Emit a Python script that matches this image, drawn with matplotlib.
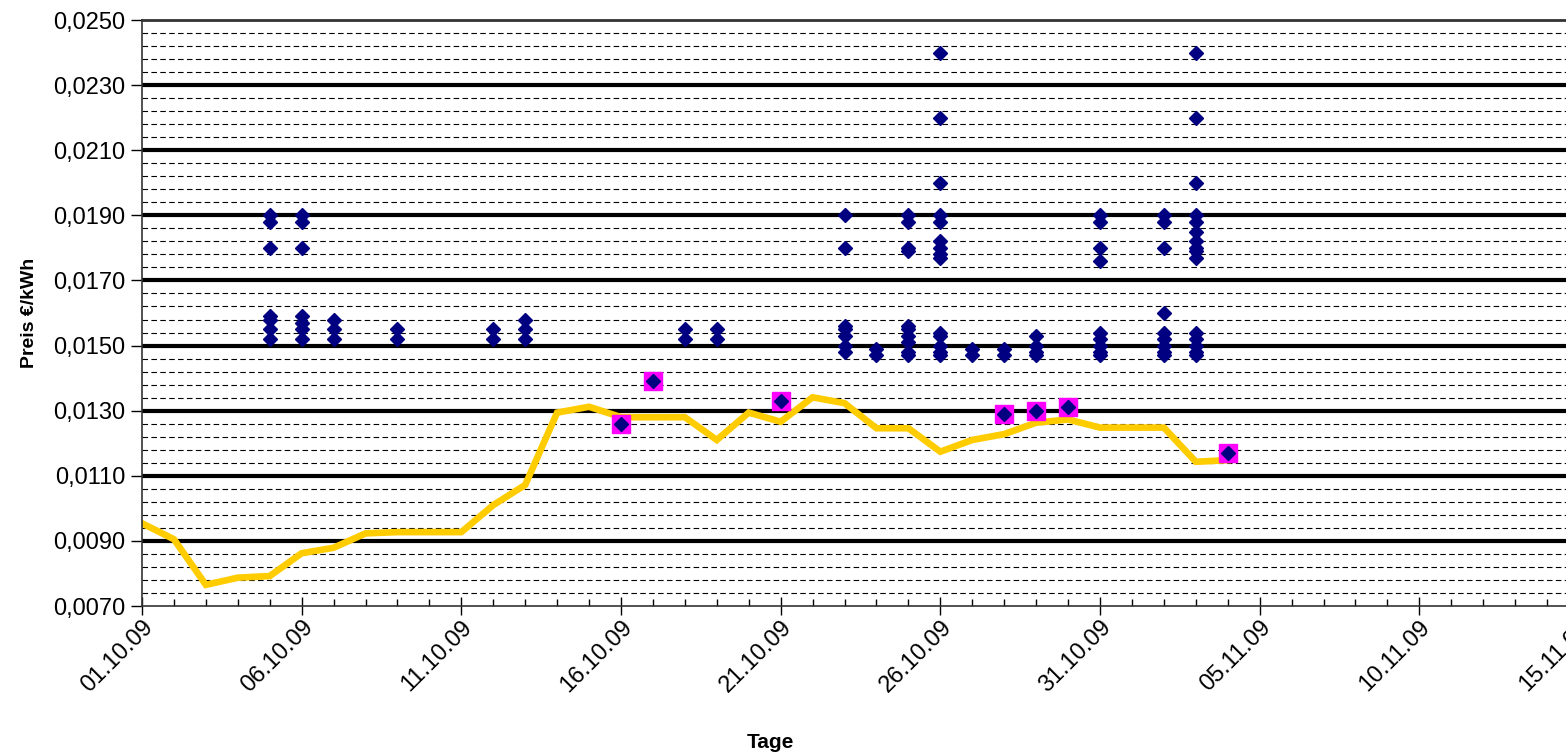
import matplotlib
matplotlib.use('Agg')
import matplotlib.pyplot as plt
import matplotlib.dates as mdates
import matplotlib.ticker as mticker
import pandas as pd

plt.rcParams['font.family'] = ['Liberation Sans', 'DejaVu Sans']

# daily reference price (yellow line), 01.10.09 .. 04.11.09
line_dates = pd.date_range('2009-10-01', periods=35, freq='D')
line_prices = [0.00954, 0.00905, 0.00765, 0.00787, 0.00792, 0.00862, 0.00879,
               0.00923, 0.00927, 0.00927, 0.00927, 0.01010, 0.01072, 0.01294,
               0.01312, 0.01280, 0.01280, 0.01280, 0.01210, 0.01294, 0.01266,
               0.01341, 0.01323, 0.01246, 0.01246, 0.01174, 0.01210, 0.01228,
               0.01263, 0.01273, 0.01248, 0.01248, 0.01248, 0.01143, 0.01148]

# offers (blue diamonds), one list of prices per day
offer_days = ['05.10.09', '06.10.09', '07.10.09', '09.10.09', '12.10.09', '13.10.09',
              '16.10.09', '17.10.09', '18.10.09', '19.10.09', '21.10.09',
              '23.10.09', '24.10.09', '25.10.09', '26.10.09', '27.10.09',
              '28.10.09', '29.10.09', '30.10.09', '31.10.09', '02.11.09',
              '03.11.09', '04.11.09']
offer_prices = [
    [0.0190, 0.0188, 0.0180, 0.0159, 0.0158, 0.0155, 0.0152],
    [0.0190, 0.0188, 0.0180, 0.0159, 0.0157, 0.0155, 0.0152],
    [0.0158, 0.0155, 0.0152],
    [0.0155, 0.0152],
    [0.0155, 0.0152],
    [0.0158, 0.0155, 0.0152],
    [0.0126],
    [0.0139],
    [0.0155, 0.0152],
    [0.0155, 0.0152],
    [0.0133],
    [0.0190, 0.0180, 0.0156, 0.0155, 0.0153, 0.0150, 0.0148],
    [0.0149, 0.0147],
    [0.0190, 0.0188, 0.0180, 0.0179, 0.0156, 0.0155, 0.0153, 0.0151, 0.0148, 0.0147],
    [0.0240, 0.0220, 0.0200, 0.0190, 0.0188, 0.0182, 0.0180, 0.0178, 0.0177,
     0.0154, 0.0153, 0.0150, 0.0148, 0.0147],
    [0.0149, 0.0147],
    [0.0149, 0.0147, 0.0129],
    [0.0153, 0.0150, 0.0148, 0.0147, 0.0130],
    [0.0131],
    [0.0190, 0.0188, 0.0180, 0.0176, 0.0154, 0.0152, 0.0150, 0.0148, 0.0147],
    [0.0190, 0.0188, 0.0180, 0.0160, 0.0154, 0.0152, 0.0150, 0.0148, 0.0147],
    [0.0240, 0.0220, 0.0200, 0.0190, 0.0188, 0.0185, 0.0182, 0.0180, 0.0179,
     0.0177, 0.0154, 0.0152, 0.0150, 0.0148, 0.0147],
    [0.0117],
]

# highlighted offers (magenta squares)
best_days = ['16.10.09', '17.10.09', '21.10.09', '28.10.09', '29.10.09', '30.10.09', '04.11.09']
best_prices = [0.0126, 0.0139, 0.0133, 0.0129, 0.0130, 0.0131, 0.0117]

y_ticks = [0.0070, 0.0090, 0.0110, 0.0130, 0.0150, 0.0170, 0.0190, 0.0210, 0.0230, 0.0250]

fig = plt.figure(figsize=(15.66, 7.52), dpi=100)
ax = fig.add_axes([142 / 1566, 146 / 752, 1437 / 1566, 586 / 752])

# grid: thin dashed every 0.0004, thick every 0.002
for v in range(74, 250, 4):
    if (v - 70) % 20 != 0:
        ax.axhline(v / 10000, color='black', lw=0.8, ls=(0, (5, 3)), zorder=1)
for v in y_ticks[1:-1]:
    ax.axhline(v, color='black', lw=3, zorder=1)

ax.plot(line_dates, line_prices, color='#FFCC00', lw=4.8, zorder=2, solid_joinstyle='miter')

bd = pd.to_datetime(best_days, format='%d.%m.%y')
ax.plot(bd, best_prices, ls='none', marker='s', ms=12.5, color='#FF00FF', zorder=3)

xs, ys = [], []
for day, prices in zip(offer_days, offer_prices):
    for p in prices:
        xs.append(pd.to_datetime(day, format='%d.%m.%y'))
        ys.append(p)
ax.plot(xs, ys, ls='none', marker='D', ms=7.3, color='#000080', zorder=4)

start = pd.Timestamp('2009-10-01')
end = pd.Timestamp('2009-11-15')
ax.set_xlim(mdates.date2num(start), mdates.date2num(end))
ax.set_ylim(0.0070, 0.0250)

major_days = pd.date_range(start, end, freq='5D')
ax.xaxis.set_major_locator(mticker.FixedLocator(mdates.date2num(major_days)))
ax.xaxis.set_minor_locator(mticker.FixedLocator(mdates.date2num(pd.date_range(start, end, freq='D'))))
ax.xaxis.set_major_formatter(mdates.DateFormatter('%d.%m.%y'))
ax.yaxis.set_major_locator(mticker.FixedLocator(y_ticks))
ax.yaxis.set_major_formatter(mticker.FuncFormatter(lambda v, p: f'{v:.4f}'.replace('.', ',')))

ax.tick_params(axis='y', direction='out', length=8, width=1, labelsize=17, pad=4)
ax.tick_params(axis='x', which='major', direction='inout', length=13, width=1, labelsize=17, pad=1)
ax.tick_params(axis='x', which='minor', direction='in', length=5, width=1)
for lab in ax.get_xticklabels():
    lab.set_rotation(45)
    lab.set_ha('right')
    lab.set_rotation_mode('anchor')

for side in ['left', 'bottom', 'top']:
    ax.spines[side].set_color('#333333')
    ax.spines[side].set_linewidth(1.2)
ax.spines['top'].set_linewidth(2)
ax.spines['right'].set_visible(False)

ax.set_xlabel('Tage', fontsize=15, fontweight='bold')
ax.set_ylabel('Preis €/kWh', fontsize=14, fontweight='bold')
ax.xaxis.set_label_coords(628 / 1437, -0.216)
ax.yaxis.set_label_coords(-104 / 1437, 0.5)

fig.savefig('out.png', dpi=100)
